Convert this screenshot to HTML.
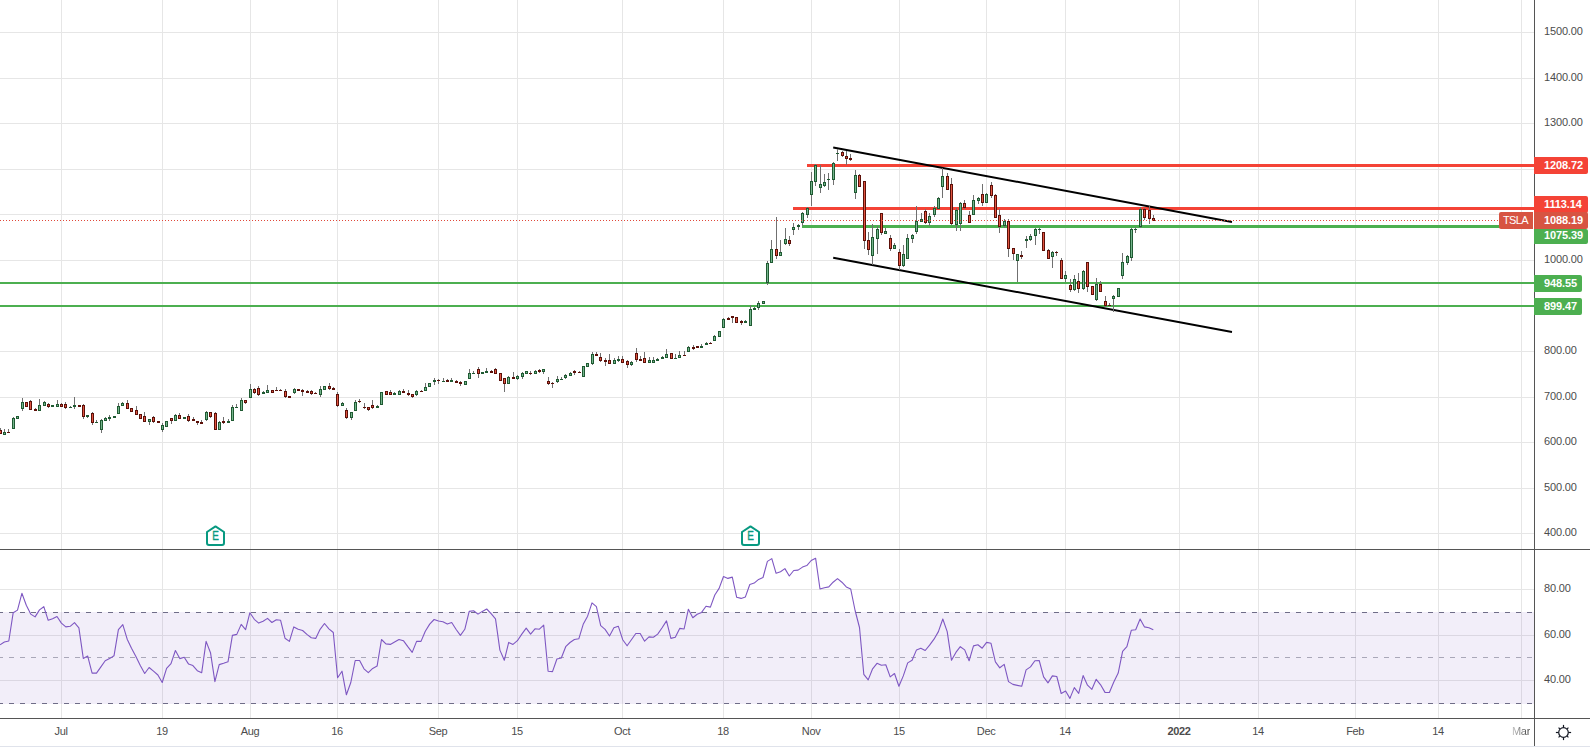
<!DOCTYPE html><html><head><meta charset="utf-8"><title>TSLA chart</title><style>
html,body{margin:0;padding:0;background:#fff}
body{width:1590px;height:748px;position:relative;overflow:hidden;font-family:"Liberation Sans",sans-serif;}
.pl{position:absolute;left:1544px;font-size:11px;line-height:14px;height:14px;color:#4c4c4c;white-space:nowrap;letter-spacing:-0.15px}
.tl{position:absolute;top:724px;font-size:11px;line-height:14px;height:14px;color:#4c4c4c;white-space:nowrap;transform:translateX(-50%);letter-spacing:-0.35px}
.tag{position:absolute;left:1534px;height:17px;line-height:17px;color:#fff;font-weight:bold;font-size:11px;padding-left:10px;box-sizing:border-box;border-radius:0 2px 2px 0;white-space:nowrap;letter-spacing:-0.1px}

</style></head><body>
<svg width="1590" height="748" viewBox="0 0 1590 748" style="position:absolute;left:0;top:0">
<g shape-rendering="crispEdges">
<rect x="61" y="0" width="1" height="718" fill="#e6e6e6"/>
<rect x="162" y="0" width="1" height="718" fill="#e6e6e6"/>
<rect x="250" y="0" width="1" height="718" fill="#e6e6e6"/>
<rect x="337" y="0" width="1" height="718" fill="#e6e6e6"/>
<rect x="438" y="0" width="1" height="718" fill="#e6e6e6"/>
<rect x="517" y="0" width="1" height="718" fill="#e6e6e6"/>
<rect x="622" y="0" width="1" height="718" fill="#e6e6e6"/>
<rect x="723" y="0" width="1" height="718" fill="#e6e6e6"/>
<rect x="811" y="0" width="1" height="718" fill="#e6e6e6"/>
<rect x="899" y="0" width="1" height="718" fill="#e6e6e6"/>
<rect x="986" y="0" width="1" height="718" fill="#e6e6e6"/>
<rect x="1065" y="0" width="1" height="718" fill="#e6e6e6"/>
<rect x="1179" y="0" width="1" height="718" fill="#e6e6e6"/>
<rect x="1258" y="0" width="1" height="718" fill="#e6e6e6"/>
<rect x="1355" y="0" width="1" height="718" fill="#e6e6e6"/>
<rect x="1438" y="0" width="1" height="718" fill="#e6e6e6"/>
<rect x="1521" y="0" width="1" height="718" fill="#e6e6e6"/>
<rect x="0" y="32" width="1534" height="1" fill="#e6e6e6"/>
<rect x="0" y="78" width="1534" height="1" fill="#e6e6e6"/>
<rect x="0" y="123" width="1534" height="1" fill="#e6e6e6"/>
<rect x="0" y="169" width="1534" height="1" fill="#e6e6e6"/>
<rect x="0" y="214" width="1534" height="1" fill="#e6e6e6"/>
<rect x="0" y="260" width="1534" height="1" fill="#e6e6e6"/>
<rect x="0" y="305" width="1534" height="1" fill="#e6e6e6"/>
<rect x="0" y="351" width="1534" height="1" fill="#e6e6e6"/>
<rect x="0" y="397" width="1534" height="1" fill="#e6e6e6"/>
<rect x="0" y="442" width="1534" height="1" fill="#e6e6e6"/>
<rect x="0" y="488" width="1534" height="1" fill="#e6e6e6"/>
<rect x="0" y="533" width="1534" height="1" fill="#e6e6e6"/>
<rect x="0" y="589" width="1534" height="1" fill="#e6e6e6"/>
<rect x="0" y="635" width="1534" height="1" fill="#e6e6e6"/>
<rect x="0" y="680" width="1534" height="1" fill="#e6e6e6"/>
<rect x="0" y="612" width="1534" height="92" fill="#7e57c2" fill-opacity="0.1"/>
<path d="M-2 612.5H1534M-2 703.5H1534" stroke="#6f6d88" stroke-width="1" stroke-dasharray="5 6" fill="none"/>
<path d="M-2 657.5H1534" stroke="#a9a7b8" stroke-width="1" stroke-dasharray="5 6" fill="none"/>
<rect x="807" y="164" width="727" height="3" fill="#f44336"/>
<rect x="793" y="207" width="741" height="3" fill="#f44336"/>
<rect x="802" y="225" width="732" height="3" fill="#4caf50"/>
<rect x="0" y="282" width="1534" height="2" fill="#4caf50"/>
<rect x="0" y="305" width="1534" height="2" fill="#4caf50"/>
</g>
<path d="M833.2 147.5L1232 221.9M833.2 257.8L1232 332" stroke="#000" stroke-width="2" stroke-linecap="butt" fill="none"/>
<g shape-rendering="crispEdges">
<rect x="0" y="428" width="1" height="6" fill="#707070"/>
<rect x="-1" y="430" width="3" height="4" fill="#5c1009"/>
<rect x="0" y="431" width="1" height="2" fill="#e05440"/>
<rect x="4" y="429" width="1" height="6" fill="#707070"/>
<rect x="3" y="432" width="3" height="3" fill="#1f5a32"/>
<rect x="4" y="433" width="1" height="1" fill="#74b48c"/>
<rect x="8" y="429" width="1" height="4" fill="#707070"/>
<rect x="7" y="432" width="3" height="1" fill="#5c1009"/>
<rect x="13" y="417" width="1" height="12" fill="#707070"/>
<rect x="12" y="418" width="3" height="11" fill="#1f5a32"/>
<rect x="13" y="419" width="1" height="9" fill="#74b48c"/>
<rect x="16" y="416" width="3" height="3" fill="#1f5a32"/>
<rect x="17" y="417" width="1" height="1" fill="#74b48c"/>
<rect x="22" y="398" width="1" height="13" fill="#707070"/>
<rect x="21" y="402" width="3" height="7" fill="#1f5a32"/>
<rect x="22" y="403" width="1" height="5" fill="#74b48c"/>
<rect x="25" y="402" width="3" height="5" fill="#5c1009"/>
<rect x="26" y="403" width="1" height="3" fill="#e05440"/>
<rect x="30" y="400" width="1" height="10" fill="#707070"/>
<rect x="29" y="401" width="3" height="9" fill="#5c1009"/>
<rect x="30" y="402" width="1" height="7" fill="#e05440"/>
<rect x="35" y="408" width="1" height="3" fill="#707070"/>
<rect x="34" y="409" width="3" height="2" fill="#5c1009"/>
<rect x="39" y="399" width="1" height="12" fill="#707070"/>
<rect x="38" y="405" width="3" height="6" fill="#1f5a32"/>
<rect x="39" y="406" width="1" height="4" fill="#74b48c"/>
<rect x="44" y="401" width="1" height="5" fill="#707070"/>
<rect x="43" y="402" width="3" height="4" fill="#1f5a32"/>
<rect x="44" y="403" width="1" height="2" fill="#74b48c"/>
<rect x="48" y="403" width="1" height="5" fill="#707070"/>
<rect x="47" y="404" width="3" height="3" fill="#5c1009"/>
<rect x="48" y="405" width="1" height="1" fill="#e05440"/>
<rect x="51" y="405" width="3" height="2" fill="#1f5a32"/>
<rect x="57" y="400" width="1" height="7" fill="#707070"/>
<rect x="56" y="404" width="3" height="3" fill="#1f5a32"/>
<rect x="57" y="405" width="1" height="1" fill="#74b48c"/>
<rect x="61" y="403" width="1" height="4" fill="#707070"/>
<rect x="60" y="404" width="3" height="3" fill="#5c1009"/>
<rect x="61" y="405" width="1" height="1" fill="#e05440"/>
<rect x="65" y="402" width="1" height="7" fill="#707070"/>
<rect x="64" y="404" width="3" height="4" fill="#5c1009"/>
<rect x="65" y="405" width="1" height="2" fill="#e05440"/>
<rect x="70" y="406" width="1" height="2" fill="#707070"/>
<rect x="69" y="407" width="3" height="1" fill="#1f5a32"/>
<rect x="74" y="397" width="1" height="12" fill="#707070"/>
<rect x="73" y="405" width="3" height="2" fill="#1f5a32"/>
<rect x="78" y="405" width="3" height="2" fill="#5c1009"/>
<rect x="83" y="404" width="1" height="15" fill="#707070"/>
<rect x="82" y="405" width="3" height="12" fill="#5c1009"/>
<rect x="83" y="406" width="1" height="10" fill="#e05440"/>
<rect x="87" y="415" width="1" height="3" fill="#707070"/>
<rect x="86" y="415" width="3" height="2" fill="#1f5a32"/>
<rect x="92" y="412" width="1" height="13" fill="#707070"/>
<rect x="91" y="413" width="3" height="10" fill="#5c1009"/>
<rect x="92" y="414" width="1" height="8" fill="#e05440"/>
<rect x="96" y="420" width="1" height="3" fill="#707070"/>
<rect x="95" y="422" width="3" height="1" fill="#1f5a32"/>
<rect x="101" y="419" width="1" height="14" fill="#707070"/>
<rect x="100" y="420" width="3" height="10" fill="#1f5a32"/>
<rect x="101" y="421" width="1" height="8" fill="#74b48c"/>
<rect x="105" y="417" width="1" height="4" fill="#707070"/>
<rect x="104" y="418" width="3" height="3" fill="#1f5a32"/>
<rect x="105" y="419" width="1" height="1" fill="#74b48c"/>
<rect x="109" y="415" width="1" height="6" fill="#707070"/>
<rect x="108" y="417" width="3" height="2" fill="#1f5a32"/>
<rect x="113" y="416" width="3" height="2" fill="#1f5a32"/>
<rect x="118" y="403" width="1" height="11" fill="#707070"/>
<rect x="117" y="406" width="3" height="8" fill="#1f5a32"/>
<rect x="118" y="407" width="1" height="6" fill="#74b48c"/>
<rect x="122" y="402" width="1" height="4" fill="#707070"/>
<rect x="121" y="403" width="3" height="3" fill="#1f5a32"/>
<rect x="122" y="404" width="1" height="1" fill="#74b48c"/>
<rect x="127" y="400" width="1" height="9" fill="#707070"/>
<rect x="126" y="403" width="3" height="6" fill="#5c1009"/>
<rect x="127" y="404" width="1" height="4" fill="#e05440"/>
<rect x="130" y="408" width="3" height="4" fill="#5c1009"/>
<rect x="131" y="409" width="1" height="2" fill="#e05440"/>
<rect x="136" y="406" width="1" height="9" fill="#707070"/>
<rect x="135" y="410" width="3" height="5" fill="#5c1009"/>
<rect x="136" y="411" width="1" height="3" fill="#e05440"/>
<rect x="139" y="414" width="3" height="5" fill="#5c1009"/>
<rect x="140" y="415" width="1" height="3" fill="#e05440"/>
<rect x="144" y="412" width="1" height="10" fill="#707070"/>
<rect x="143" y="416" width="3" height="6" fill="#5c1009"/>
<rect x="144" y="417" width="1" height="4" fill="#e05440"/>
<rect x="149" y="419" width="1" height="6" fill="#707070"/>
<rect x="148" y="419" width="3" height="3" fill="#1f5a32"/>
<rect x="149" y="420" width="1" height="1" fill="#74b48c"/>
<rect x="153" y="416" width="1" height="7" fill="#707070"/>
<rect x="152" y="417" width="3" height="5" fill="#5c1009"/>
<rect x="153" y="418" width="1" height="3" fill="#e05440"/>
<rect x="157" y="421" width="3" height="2" fill="#5c1009"/>
<rect x="162" y="423" width="1" height="9" fill="#707070"/>
<rect x="161" y="425" width="3" height="5" fill="#1f5a32"/>
<rect x="162" y="426" width="1" height="3" fill="#74b48c"/>
<rect x="165" y="421" width="3" height="6" fill="#1f5a32"/>
<rect x="166" y="422" width="1" height="4" fill="#74b48c"/>
<rect x="171" y="418" width="1" height="6" fill="#707070"/>
<rect x="170" y="418" width="3" height="3" fill="#5c1009"/>
<rect x="171" y="419" width="1" height="1" fill="#e05440"/>
<rect x="175" y="414" width="1" height="7" fill="#707070"/>
<rect x="174" y="415" width="3" height="6" fill="#1f5a32"/>
<rect x="175" y="416" width="1" height="4" fill="#74b48c"/>
<rect x="179" y="413" width="1" height="6" fill="#707070"/>
<rect x="178" y="415" width="3" height="4" fill="#5c1009"/>
<rect x="179" y="416" width="1" height="2" fill="#e05440"/>
<rect x="183" y="417" width="3" height="2" fill="#1f5a32"/>
<rect x="188" y="414" width="1" height="8" fill="#707070"/>
<rect x="187" y="416" width="3" height="5" fill="#5c1009"/>
<rect x="188" y="417" width="1" height="3" fill="#e05440"/>
<rect x="193" y="417" width="1" height="4" fill="#707070"/>
<rect x="192" y="419" width="3" height="2" fill="#5c1009"/>
<rect x="197" y="421" width="1" height="4" fill="#707070"/>
<rect x="196" y="421" width="3" height="2" fill="#5c1009"/>
<rect x="201" y="420" width="1" height="4" fill="#707070"/>
<rect x="200" y="422" width="3" height="2" fill="#5c1009"/>
<rect x="206" y="411" width="1" height="10" fill="#707070"/>
<rect x="205" y="412" width="3" height="8" fill="#1f5a32"/>
<rect x="206" y="413" width="1" height="6" fill="#74b48c"/>
<rect x="210" y="412" width="1" height="6" fill="#707070"/>
<rect x="209" y="412" width="3" height="5" fill="#5c1009"/>
<rect x="210" y="413" width="1" height="3" fill="#e05440"/>
<rect x="215" y="412" width="1" height="18" fill="#707070"/>
<rect x="214" y="413" width="3" height="17" fill="#5c1009"/>
<rect x="215" y="414" width="1" height="15" fill="#e05440"/>
<rect x="219" y="421" width="1" height="9" fill="#707070"/>
<rect x="218" y="422" width="3" height="8" fill="#1f5a32"/>
<rect x="219" y="423" width="1" height="6" fill="#74b48c"/>
<rect x="223" y="417" width="1" height="7" fill="#707070"/>
<rect x="222" y="421" width="3" height="2" fill="#5c1009"/>
<rect x="228" y="419" width="1" height="4" fill="#707070"/>
<rect x="227" y="421" width="3" height="2" fill="#1f5a32"/>
<rect x="232" y="405" width="1" height="16" fill="#707070"/>
<rect x="231" y="407" width="3" height="14" fill="#1f5a32"/>
<rect x="232" y="408" width="1" height="12" fill="#74b48c"/>
<rect x="236" y="404" width="1" height="4" fill="#707070"/>
<rect x="235" y="407" width="3" height="1" fill="#1f5a32"/>
<rect x="241" y="398" width="1" height="13" fill="#707070"/>
<rect x="240" y="400" width="3" height="11" fill="#1f5a32"/>
<rect x="241" y="401" width="1" height="9" fill="#74b48c"/>
<rect x="245" y="400" width="1" height="4" fill="#707070"/>
<rect x="244" y="400" width="3" height="3" fill="#5c1009"/>
<rect x="245" y="401" width="1" height="1" fill="#e05440"/>
<rect x="250" y="384" width="1" height="14" fill="#707070"/>
<rect x="249" y="389" width="3" height="9" fill="#1f5a32"/>
<rect x="250" y="390" width="1" height="7" fill="#74b48c"/>
<rect x="254" y="388" width="1" height="6" fill="#707070"/>
<rect x="253" y="389" width="3" height="4" fill="#5c1009"/>
<rect x="254" y="390" width="1" height="2" fill="#e05440"/>
<rect x="258" y="386" width="1" height="10" fill="#707070"/>
<rect x="257" y="388" width="3" height="7" fill="#5c1009"/>
<rect x="258" y="389" width="1" height="5" fill="#e05440"/>
<rect x="263" y="391" width="1" height="3" fill="#707070"/>
<rect x="262" y="392" width="3" height="2" fill="#1f5a32"/>
<rect x="267" y="385" width="1" height="8" fill="#707070"/>
<rect x="266" y="390" width="3" height="3" fill="#1f5a32"/>
<rect x="267" y="391" width="1" height="1" fill="#74b48c"/>
<rect x="271" y="390" width="3" height="3" fill="#5c1009"/>
<rect x="272" y="391" width="1" height="1" fill="#e05440"/>
<rect x="276" y="387" width="1" height="4" fill="#707070"/>
<rect x="275" y="390" width="3" height="1" fill="#5c1009"/>
<rect x="280" y="389" width="1" height="2" fill="#707070"/>
<rect x="279" y="390" width="3" height="1" fill="#5c1009"/>
<rect x="285" y="389" width="1" height="9" fill="#707070"/>
<rect x="284" y="391" width="3" height="6" fill="#5c1009"/>
<rect x="285" y="392" width="1" height="4" fill="#e05440"/>
<rect x="288" y="396" width="3" height="2" fill="#5c1009"/>
<rect x="294" y="388" width="1" height="6" fill="#707070"/>
<rect x="293" y="389" width="3" height="4" fill="#1f5a32"/>
<rect x="294" y="390" width="1" height="2" fill="#74b48c"/>
<rect x="297" y="389" width="3" height="2" fill="#5c1009"/>
<rect x="302" y="389" width="1" height="7" fill="#707070"/>
<rect x="301" y="390" width="3" height="2" fill="#5c1009"/>
<rect x="307" y="390" width="1" height="3" fill="#707070"/>
<rect x="306" y="391" width="3" height="2" fill="#5c1009"/>
<rect x="311" y="390" width="1" height="5" fill="#707070"/>
<rect x="310" y="391" width="3" height="3" fill="#5c1009"/>
<rect x="311" y="392" width="1" height="1" fill="#e05440"/>
<rect x="315" y="392" width="1" height="2" fill="#707070"/>
<rect x="314" y="393" width="3" height="1" fill="#5c1009"/>
<rect x="320" y="386" width="1" height="11" fill="#707070"/>
<rect x="319" y="389" width="3" height="6" fill="#1f5a32"/>
<rect x="320" y="390" width="1" height="4" fill="#74b48c"/>
<rect x="323" y="386" width="3" height="4" fill="#1f5a32"/>
<rect x="324" y="387" width="1" height="2" fill="#74b48c"/>
<rect x="329" y="383" width="1" height="7" fill="#707070"/>
<rect x="328" y="386" width="3" height="3" fill="#5c1009"/>
<rect x="329" y="387" width="1" height="1" fill="#e05440"/>
<rect x="333" y="387" width="1" height="3" fill="#707070"/>
<rect x="332" y="388" width="3" height="2" fill="#5c1009"/>
<rect x="337" y="392" width="1" height="15" fill="#707070"/>
<rect x="336" y="394" width="3" height="12" fill="#5c1009"/>
<rect x="337" y="395" width="1" height="10" fill="#e05440"/>
<rect x="342" y="402" width="1" height="4" fill="#707070"/>
<rect x="341" y="403" width="3" height="3" fill="#1f5a32"/>
<rect x="342" y="404" width="1" height="1" fill="#74b48c"/>
<rect x="346" y="408" width="1" height="11" fill="#707070"/>
<rect x="345" y="410" width="3" height="8" fill="#5c1009"/>
<rect x="346" y="411" width="1" height="6" fill="#e05440"/>
<rect x="351" y="412" width="1" height="8" fill="#707070"/>
<rect x="350" y="412" width="3" height="6" fill="#1f5a32"/>
<rect x="351" y="413" width="1" height="4" fill="#74b48c"/>
<rect x="355" y="400" width="1" height="11" fill="#707070"/>
<rect x="354" y="402" width="3" height="9" fill="#1f5a32"/>
<rect x="355" y="403" width="1" height="7" fill="#74b48c"/>
<rect x="359" y="399" width="1" height="4" fill="#707070"/>
<rect x="358" y="401" width="3" height="1" fill="#5c1009"/>
<rect x="364" y="403" width="1" height="6" fill="#707070"/>
<rect x="363" y="407" width="3" height="1" fill="#5c1009"/>
<rect x="368" y="407" width="1" height="4" fill="#707070"/>
<rect x="367" y="407" width="3" height="3" fill="#5c1009"/>
<rect x="368" y="408" width="1" height="1" fill="#e05440"/>
<rect x="372" y="400" width="1" height="9" fill="#707070"/>
<rect x="371" y="405" width="3" height="3" fill="#5c1009"/>
<rect x="372" y="406" width="1" height="1" fill="#e05440"/>
<rect x="377" y="405" width="1" height="3" fill="#707070"/>
<rect x="376" y="406" width="3" height="2" fill="#1f5a32"/>
<rect x="380" y="392" width="3" height="13" fill="#1f5a32"/>
<rect x="381" y="393" width="1" height="11" fill="#74b48c"/>
<rect x="385" y="391" width="3" height="4" fill="#5c1009"/>
<rect x="386" y="392" width="1" height="2" fill="#e05440"/>
<rect x="390" y="390" width="1" height="5" fill="#707070"/>
<rect x="389" y="392" width="3" height="3" fill="#5c1009"/>
<rect x="390" y="393" width="1" height="1" fill="#e05440"/>
<rect x="394" y="392" width="1" height="3" fill="#707070"/>
<rect x="393" y="393" width="3" height="2" fill="#1f5a32"/>
<rect x="399" y="390" width="1" height="5" fill="#707070"/>
<rect x="398" y="391" width="3" height="4" fill="#1f5a32"/>
<rect x="399" y="392" width="1" height="2" fill="#74b48c"/>
<rect x="403" y="389" width="1" height="4" fill="#707070"/>
<rect x="402" y="391" width="3" height="2" fill="#5c1009"/>
<rect x="408" y="390" width="1" height="6" fill="#707070"/>
<rect x="407" y="393" width="3" height="2" fill="#5c1009"/>
<rect x="412" y="394" width="1" height="4" fill="#707070"/>
<rect x="411" y="394" width="3" height="3" fill="#5c1009"/>
<rect x="412" y="395" width="1" height="1" fill="#e05440"/>
<rect x="416" y="390" width="1" height="6" fill="#707070"/>
<rect x="415" y="391" width="3" height="4" fill="#1f5a32"/>
<rect x="416" y="392" width="1" height="2" fill="#74b48c"/>
<rect x="421" y="390" width="1" height="2" fill="#707070"/>
<rect x="420" y="391" width="3" height="1" fill="#5c1009"/>
<rect x="425" y="383" width="1" height="8" fill="#707070"/>
<rect x="424" y="387" width="3" height="4" fill="#1f5a32"/>
<rect x="425" y="388" width="1" height="2" fill="#74b48c"/>
<rect x="428" y="383" width="3" height="4" fill="#1f5a32"/>
<rect x="429" y="384" width="1" height="2" fill="#74b48c"/>
<rect x="434" y="378" width="1" height="7" fill="#707070"/>
<rect x="433" y="380" width="3" height="2" fill="#1f5a32"/>
<rect x="438" y="379" width="1" height="5" fill="#707070"/>
<rect x="437" y="380" width="3" height="1" fill="#5c1009"/>
<rect x="443" y="378" width="1" height="4" fill="#707070"/>
<rect x="442" y="381" width="3" height="1" fill="#1f5a32"/>
<rect x="447" y="379" width="1" height="3" fill="#707070"/>
<rect x="446" y="380" width="3" height="2" fill="#5c1009"/>
<rect x="451" y="378" width="1" height="4" fill="#707070"/>
<rect x="450" y="380" width="3" height="2" fill="#1f5a32"/>
<rect x="456" y="380" width="1" height="3" fill="#707070"/>
<rect x="455" y="381" width="3" height="2" fill="#5c1009"/>
<rect x="460" y="381" width="1" height="5" fill="#707070"/>
<rect x="459" y="382" width="3" height="2" fill="#5c1009"/>
<rect x="464" y="381" width="3" height="4" fill="#1f5a32"/>
<rect x="465" y="382" width="1" height="2" fill="#74b48c"/>
<rect x="469" y="369" width="1" height="10" fill="#707070"/>
<rect x="468" y="373" width="3" height="6" fill="#1f5a32"/>
<rect x="469" y="374" width="1" height="4" fill="#74b48c"/>
<rect x="473" y="371" width="1" height="3" fill="#707070"/>
<rect x="472" y="373" width="3" height="1" fill="#1f5a32"/>
<rect x="478" y="367" width="1" height="11" fill="#707070"/>
<rect x="477" y="369" width="3" height="5" fill="#5c1009"/>
<rect x="478" y="370" width="1" height="3" fill="#e05440"/>
<rect x="481" y="372" width="3" height="2" fill="#1f5a32"/>
<rect x="486" y="368" width="1" height="5" fill="#707070"/>
<rect x="485" y="371" width="3" height="2" fill="#1f5a32"/>
<rect x="491" y="370" width="1" height="3" fill="#707070"/>
<rect x="490" y="371" width="3" height="2" fill="#5c1009"/>
<rect x="495" y="368" width="1" height="6" fill="#707070"/>
<rect x="494" y="369" width="3" height="5" fill="#5c1009"/>
<rect x="495" y="370" width="1" height="3" fill="#e05440"/>
<rect x="499" y="373" width="3" height="8" fill="#5c1009"/>
<rect x="500" y="374" width="1" height="6" fill="#e05440"/>
<rect x="504" y="378" width="1" height="14" fill="#707070"/>
<rect x="503" y="378" width="3" height="6" fill="#5c1009"/>
<rect x="504" y="379" width="1" height="4" fill="#e05440"/>
<rect x="508" y="376" width="1" height="8" fill="#707070"/>
<rect x="507" y="377" width="3" height="7" fill="#1f5a32"/>
<rect x="508" y="378" width="1" height="5" fill="#74b48c"/>
<rect x="513" y="372" width="1" height="7" fill="#707070"/>
<rect x="512" y="377" width="3" height="2" fill="#5c1009"/>
<rect x="517" y="375" width="1" height="5" fill="#707070"/>
<rect x="516" y="376" width="3" height="3" fill="#1f5a32"/>
<rect x="517" y="377" width="1" height="1" fill="#74b48c"/>
<rect x="522" y="372" width="1" height="7" fill="#707070"/>
<rect x="521" y="373" width="3" height="4" fill="#1f5a32"/>
<rect x="522" y="374" width="1" height="2" fill="#74b48c"/>
<rect x="525" y="371" width="3" height="3" fill="#1f5a32"/>
<rect x="526" y="372" width="1" height="1" fill="#74b48c"/>
<rect x="530" y="371" width="1" height="4" fill="#707070"/>
<rect x="529" y="373" width="3" height="1" fill="#5c1009"/>
<rect x="535" y="370" width="1" height="4" fill="#707070"/>
<rect x="534" y="371" width="3" height="3" fill="#1f5a32"/>
<rect x="535" y="372" width="1" height="1" fill="#74b48c"/>
<rect x="539" y="369" width="1" height="4" fill="#707070"/>
<rect x="538" y="370" width="3" height="2" fill="#5c1009"/>
<rect x="543" y="369" width="1" height="5" fill="#707070"/>
<rect x="542" y="369" width="3" height="3" fill="#1f5a32"/>
<rect x="543" y="370" width="1" height="1" fill="#74b48c"/>
<rect x="548" y="377" width="1" height="8" fill="#707070"/>
<rect x="547" y="381" width="3" height="3" fill="#5c1009"/>
<rect x="548" y="382" width="1" height="1" fill="#e05440"/>
<rect x="552" y="382" width="1" height="6" fill="#707070"/>
<rect x="551" y="383" width="3" height="1" fill="#5c1009"/>
<rect x="557" y="376" width="1" height="7" fill="#707070"/>
<rect x="556" y="379" width="3" height="3" fill="#1f5a32"/>
<rect x="557" y="380" width="1" height="1" fill="#74b48c"/>
<rect x="561" y="377" width="1" height="3" fill="#707070"/>
<rect x="560" y="379" width="3" height="1" fill="#1f5a32"/>
<rect x="565" y="374" width="1" height="5" fill="#707070"/>
<rect x="564" y="375" width="3" height="3" fill="#1f5a32"/>
<rect x="565" y="376" width="1" height="1" fill="#74b48c"/>
<rect x="570" y="372" width="1" height="4" fill="#707070"/>
<rect x="569" y="373" width="3" height="3" fill="#1f5a32"/>
<rect x="570" y="374" width="1" height="1" fill="#74b48c"/>
<rect x="574" y="370" width="1" height="5" fill="#707070"/>
<rect x="573" y="371" width="3" height="2" fill="#5c1009"/>
<rect x="579" y="371" width="1" height="2" fill="#707070"/>
<rect x="578" y="372" width="3" height="1" fill="#5c1009"/>
<rect x="582" y="366" width="3" height="11" fill="#1f5a32"/>
<rect x="583" y="367" width="1" height="9" fill="#74b48c"/>
<rect x="586" y="363" width="3" height="4" fill="#1f5a32"/>
<rect x="587" y="364" width="1" height="2" fill="#74b48c"/>
<rect x="592" y="352" width="1" height="13" fill="#707070"/>
<rect x="591" y="354" width="3" height="10" fill="#1f5a32"/>
<rect x="592" y="355" width="1" height="8" fill="#74b48c"/>
<rect x="596" y="352" width="1" height="4" fill="#707070"/>
<rect x="595" y="354" width="3" height="2" fill="#5c1009"/>
<rect x="600" y="353" width="1" height="9" fill="#707070"/>
<rect x="599" y="357" width="3" height="4" fill="#5c1009"/>
<rect x="600" y="358" width="1" height="2" fill="#e05440"/>
<rect x="605" y="358" width="1" height="8" fill="#707070"/>
<rect x="604" y="360" width="3" height="2" fill="#5c1009"/>
<rect x="609" y="354" width="1" height="10" fill="#707070"/>
<rect x="608" y="360" width="3" height="4" fill="#5c1009"/>
<rect x="609" y="361" width="1" height="2" fill="#e05440"/>
<rect x="614" y="358" width="1" height="6" fill="#707070"/>
<rect x="613" y="360" width="3" height="4" fill="#1f5a32"/>
<rect x="614" y="361" width="1" height="2" fill="#74b48c"/>
<rect x="618" y="356" width="1" height="6" fill="#707070"/>
<rect x="617" y="359" width="3" height="2" fill="#1f5a32"/>
<rect x="622" y="356" width="1" height="7" fill="#707070"/>
<rect x="621" y="359" width="3" height="4" fill="#5c1009"/>
<rect x="622" y="360" width="1" height="2" fill="#e05440"/>
<rect x="627" y="360" width="1" height="8" fill="#707070"/>
<rect x="626" y="361" width="3" height="4" fill="#5c1009"/>
<rect x="627" y="362" width="1" height="2" fill="#e05440"/>
<rect x="631" y="361" width="1" height="5" fill="#707070"/>
<rect x="630" y="362" width="3" height="3" fill="#1f5a32"/>
<rect x="631" y="363" width="1" height="1" fill="#74b48c"/>
<rect x="636" y="348" width="1" height="14" fill="#707070"/>
<rect x="635" y="353" width="3" height="7" fill="#5c1009"/>
<rect x="636" y="354" width="1" height="5" fill="#e05440"/>
<rect x="640" y="356" width="1" height="5" fill="#707070"/>
<rect x="639" y="359" width="3" height="2" fill="#5c1009"/>
<rect x="644" y="352" width="1" height="11" fill="#707070"/>
<rect x="643" y="358" width="3" height="5" fill="#5c1009"/>
<rect x="644" y="359" width="1" height="3" fill="#e05440"/>
<rect x="649" y="357" width="1" height="6" fill="#707070"/>
<rect x="648" y="360" width="3" height="3" fill="#1f5a32"/>
<rect x="649" y="361" width="1" height="1" fill="#74b48c"/>
<rect x="653" y="357" width="1" height="6" fill="#707070"/>
<rect x="652" y="360" width="3" height="3" fill="#1f5a32"/>
<rect x="653" y="361" width="1" height="1" fill="#74b48c"/>
<rect x="657" y="358" width="1" height="3" fill="#707070"/>
<rect x="656" y="359" width="3" height="2" fill="#1f5a32"/>
<rect x="662" y="356" width="1" height="3" fill="#707070"/>
<rect x="661" y="357" width="3" height="2" fill="#1f5a32"/>
<rect x="666" y="349" width="1" height="9" fill="#707070"/>
<rect x="665" y="354" width="3" height="4" fill="#1f5a32"/>
<rect x="666" y="355" width="1" height="2" fill="#74b48c"/>
<rect x="670" y="353" width="3" height="6" fill="#5c1009"/>
<rect x="671" y="354" width="1" height="4" fill="#e05440"/>
<rect x="675" y="354" width="1" height="5" fill="#707070"/>
<rect x="674" y="358" width="3" height="1" fill="#1f5a32"/>
<rect x="679" y="351" width="1" height="7" fill="#707070"/>
<rect x="678" y="355" width="3" height="3" fill="#1f5a32"/>
<rect x="679" y="356" width="1" height="1" fill="#74b48c"/>
<rect x="684" y="351" width="1" height="5" fill="#707070"/>
<rect x="683" y="355" width="3" height="1" fill="#5c1009"/>
<rect x="688" y="346" width="1" height="6" fill="#707070"/>
<rect x="687" y="347" width="3" height="5" fill="#1f5a32"/>
<rect x="688" y="348" width="1" height="3" fill="#74b48c"/>
<rect x="693" y="345" width="1" height="5" fill="#707070"/>
<rect x="692" y="347" width="3" height="2" fill="#5c1009"/>
<rect x="696" y="346" width="3" height="2" fill="#5c1009"/>
<rect x="701" y="344" width="1" height="4" fill="#707070"/>
<rect x="700" y="346" width="3" height="2" fill="#1f5a32"/>
<rect x="706" y="342" width="1" height="3" fill="#707070"/>
<rect x="705" y="343" width="3" height="2" fill="#1f5a32"/>
<rect x="710" y="342" width="1" height="2" fill="#707070"/>
<rect x="709" y="343" width="3" height="1" fill="#5c1009"/>
<rect x="714" y="335" width="1" height="6" fill="#707070"/>
<rect x="713" y="336" width="3" height="5" fill="#1f5a32"/>
<rect x="714" y="337" width="1" height="3" fill="#74b48c"/>
<rect x="718" y="331" width="3" height="6" fill="#1f5a32"/>
<rect x="719" y="332" width="1" height="4" fill="#74b48c"/>
<rect x="723" y="318" width="1" height="10" fill="#707070"/>
<rect x="722" y="319" width="3" height="9" fill="#1f5a32"/>
<rect x="723" y="320" width="1" height="7" fill="#74b48c"/>
<rect x="728" y="317" width="1" height="3" fill="#707070"/>
<rect x="727" y="318" width="3" height="2" fill="#5c1009"/>
<rect x="732" y="316" width="1" height="7" fill="#707070"/>
<rect x="731" y="316" width="3" height="2" fill="#5c1009"/>
<rect x="735" y="317" width="3" height="6" fill="#5c1009"/>
<rect x="736" y="318" width="1" height="4" fill="#e05440"/>
<rect x="741" y="320" width="1" height="5" fill="#707070"/>
<rect x="740" y="321" width="3" height="2" fill="#5c1009"/>
<rect x="745" y="320" width="1" height="3" fill="#707070"/>
<rect x="744" y="321" width="3" height="2" fill="#1f5a32"/>
<rect x="750" y="305" width="1" height="21" fill="#707070"/>
<rect x="749" y="309" width="3" height="17" fill="#1f5a32"/>
<rect x="750" y="310" width="1" height="15" fill="#74b48c"/>
<rect x="754" y="307" width="1" height="3" fill="#707070"/>
<rect x="753" y="308" width="3" height="2" fill="#1f5a32"/>
<rect x="758" y="301" width="1" height="9" fill="#707070"/>
<rect x="757" y="303" width="3" height="5" fill="#1f5a32"/>
<rect x="758" y="304" width="1" height="3" fill="#74b48c"/>
<rect x="762" y="301" width="3" height="3" fill="#1f5a32"/>
<rect x="763" y="302" width="1" height="1" fill="#74b48c"/>
<rect x="767" y="261" width="1" height="24" fill="#707070"/>
<rect x="766" y="263" width="3" height="20" fill="#1f5a32"/>
<rect x="767" y="264" width="1" height="18" fill="#74b48c"/>
<rect x="771" y="240" width="1" height="23" fill="#707070"/>
<rect x="770" y="249" width="3" height="14" fill="#1f5a32"/>
<rect x="771" y="250" width="1" height="12" fill="#74b48c"/>
<rect x="776" y="217" width="1" height="42" fill="#707070"/>
<rect x="775" y="249" width="3" height="7" fill="#5c1009"/>
<rect x="776" y="250" width="1" height="5" fill="#e05440"/>
<rect x="780" y="240" width="1" height="16" fill="#707070"/>
<rect x="779" y="252" width="3" height="4" fill="#1f5a32"/>
<rect x="780" y="253" width="1" height="2" fill="#74b48c"/>
<rect x="785" y="228" width="1" height="17" fill="#707070"/>
<rect x="784" y="239" width="3" height="5" fill="#1f5a32"/>
<rect x="785" y="240" width="1" height="3" fill="#74b48c"/>
<rect x="789" y="236" width="1" height="10" fill="#707070"/>
<rect x="788" y="240" width="3" height="4" fill="#5c1009"/>
<rect x="789" y="241" width="1" height="2" fill="#e05440"/>
<rect x="793" y="223" width="1" height="12" fill="#707070"/>
<rect x="792" y="227" width="3" height="3" fill="#1f5a32"/>
<rect x="793" y="228" width="1" height="1" fill="#74b48c"/>
<rect x="798" y="224" width="1" height="6" fill="#707070"/>
<rect x="797" y="225" width="3" height="2" fill="#1f5a32"/>
<rect x="802" y="212" width="1" height="14" fill="#707070"/>
<rect x="801" y="213" width="3" height="10" fill="#1f5a32"/>
<rect x="802" y="214" width="1" height="8" fill="#74b48c"/>
<rect x="807" y="207" width="1" height="11" fill="#707070"/>
<rect x="806" y="208" width="3" height="7" fill="#1f5a32"/>
<rect x="807" y="209" width="1" height="5" fill="#74b48c"/>
<rect x="811" y="172" width="1" height="34" fill="#707070"/>
<rect x="810" y="181" width="3" height="14" fill="#1f5a32"/>
<rect x="811" y="182" width="1" height="12" fill="#74b48c"/>
<rect x="815" y="164" width="1" height="22" fill="#707070"/>
<rect x="814" y="165" width="3" height="17" fill="#1f5a32"/>
<rect x="815" y="166" width="1" height="15" fill="#74b48c"/>
<rect x="820" y="165" width="1" height="28" fill="#707070"/>
<rect x="819" y="184" width="3" height="4" fill="#1f5a32"/>
<rect x="820" y="185" width="1" height="2" fill="#74b48c"/>
<rect x="824" y="174" width="1" height="13" fill="#707070"/>
<rect x="823" y="182" width="3" height="4" fill="#1f5a32"/>
<rect x="824" y="183" width="1" height="2" fill="#74b48c"/>
<rect x="828" y="173" width="1" height="17" fill="#707070"/>
<rect x="827" y="179" width="3" height="1" fill="#1f5a32"/>
<rect x="833" y="162" width="1" height="23" fill="#707070"/>
<rect x="832" y="163" width="3" height="17" fill="#1f5a32"/>
<rect x="833" y="164" width="1" height="15" fill="#74b48c"/>
<rect x="837" y="149" width="1" height="12" fill="#707070"/>
<rect x="836" y="153" width="3" height="1" fill="#1f5a32"/>
<rect x="842" y="151" width="1" height="6" fill="#707070"/>
<rect x="841" y="152" width="3" height="4" fill="#5c1009"/>
<rect x="842" y="153" width="1" height="2" fill="#e05440"/>
<rect x="846" y="151" width="1" height="14" fill="#707070"/>
<rect x="845" y="156" width="3" height="3" fill="#5c1009"/>
<rect x="846" y="157" width="1" height="1" fill="#e05440"/>
<rect x="850" y="154" width="1" height="7" fill="#707070"/>
<rect x="849" y="158" width="3" height="2" fill="#5c1009"/>
<rect x="855" y="170" width="1" height="29" fill="#707070"/>
<rect x="854" y="175" width="3" height="18" fill="#1f5a32"/>
<rect x="855" y="176" width="1" height="16" fill="#74b48c"/>
<rect x="859" y="174" width="1" height="13" fill="#707070"/>
<rect x="858" y="175" width="3" height="12" fill="#5c1009"/>
<rect x="859" y="176" width="1" height="10" fill="#e05440"/>
<rect x="864" y="181" width="1" height="68" fill="#707070"/>
<rect x="863" y="181" width="3" height="60" fill="#5c1009"/>
<rect x="864" y="182" width="1" height="58" fill="#e05440"/>
<rect x="868" y="232" width="1" height="23" fill="#707070"/>
<rect x="867" y="240" width="3" height="10" fill="#5c1009"/>
<rect x="868" y="241" width="1" height="8" fill="#e05440"/>
<rect x="872" y="224" width="1" height="41" fill="#707070"/>
<rect x="871" y="237" width="3" height="19" fill="#1f5a32"/>
<rect x="872" y="238" width="1" height="17" fill="#74b48c"/>
<rect x="877" y="226" width="1" height="28" fill="#707070"/>
<rect x="876" y="229" width="3" height="10" fill="#1f5a32"/>
<rect x="877" y="230" width="1" height="8" fill="#74b48c"/>
<rect x="881" y="213" width="1" height="22" fill="#707070"/>
<rect x="880" y="213" width="3" height="20" fill="#5c1009"/>
<rect x="881" y="214" width="1" height="18" fill="#e05440"/>
<rect x="885" y="228" width="1" height="6" fill="#707070"/>
<rect x="884" y="231" width="3" height="3" fill="#1f5a32"/>
<rect x="885" y="232" width="1" height="1" fill="#74b48c"/>
<rect x="890" y="235" width="1" height="16" fill="#707070"/>
<rect x="889" y="238" width="3" height="11" fill="#5c1009"/>
<rect x="890" y="239" width="1" height="9" fill="#e05440"/>
<rect x="894" y="243" width="1" height="6" fill="#707070"/>
<rect x="893" y="245" width="3" height="4" fill="#1f5a32"/>
<rect x="894" y="246" width="1" height="2" fill="#74b48c"/>
<rect x="899" y="249" width="1" height="21" fill="#707070"/>
<rect x="898" y="252" width="3" height="14" fill="#5c1009"/>
<rect x="899" y="253" width="1" height="12" fill="#e05440"/>
<rect x="903" y="245" width="1" height="22" fill="#707070"/>
<rect x="902" y="254" width="3" height="12" fill="#1f5a32"/>
<rect x="903" y="255" width="1" height="10" fill="#74b48c"/>
<rect x="907" y="234" width="1" height="25" fill="#707070"/>
<rect x="906" y="238" width="3" height="21" fill="#1f5a32"/>
<rect x="907" y="239" width="1" height="19" fill="#74b48c"/>
<rect x="912" y="234" width="1" height="9" fill="#707070"/>
<rect x="911" y="235" width="3" height="4" fill="#1f5a32"/>
<rect x="912" y="236" width="1" height="2" fill="#74b48c"/>
<rect x="916" y="206" width="1" height="28" fill="#707070"/>
<rect x="915" y="221" width="3" height="11" fill="#1f5a32"/>
<rect x="916" y="222" width="1" height="9" fill="#74b48c"/>
<rect x="921" y="213" width="1" height="9" fill="#707070"/>
<rect x="920" y="219" width="3" height="3" fill="#1f5a32"/>
<rect x="921" y="220" width="1" height="1" fill="#74b48c"/>
<rect x="925" y="209" width="1" height="15" fill="#707070"/>
<rect x="924" y="211" width="3" height="12" fill="#5c1009"/>
<rect x="925" y="212" width="1" height="10" fill="#e05440"/>
<rect x="929" y="213" width="1" height="13" fill="#707070"/>
<rect x="928" y="216" width="3" height="7" fill="#1f5a32"/>
<rect x="929" y="217" width="1" height="5" fill="#74b48c"/>
<rect x="934" y="206" width="1" height="11" fill="#707070"/>
<rect x="933" y="208" width="3" height="7" fill="#1f5a32"/>
<rect x="934" y="209" width="1" height="5" fill="#74b48c"/>
<rect x="938" y="197" width="1" height="12" fill="#707070"/>
<rect x="937" y="198" width="3" height="11" fill="#1f5a32"/>
<rect x="938" y="199" width="1" height="9" fill="#74b48c"/>
<rect x="942" y="168" width="1" height="30" fill="#707070"/>
<rect x="941" y="176" width="3" height="11" fill="#1f5a32"/>
<rect x="942" y="177" width="1" height="9" fill="#74b48c"/>
<rect x="947" y="173" width="1" height="17" fill="#707070"/>
<rect x="946" y="176" width="3" height="14" fill="#5c1009"/>
<rect x="947" y="177" width="1" height="12" fill="#e05440"/>
<rect x="951" y="178" width="1" height="47" fill="#707070"/>
<rect x="950" y="184" width="3" height="40" fill="#5c1009"/>
<rect x="951" y="185" width="1" height="38" fill="#e05440"/>
<rect x="956" y="208" width="1" height="23" fill="#707070"/>
<rect x="955" y="210" width="3" height="15" fill="#1f5a32"/>
<rect x="956" y="211" width="1" height="13" fill="#74b48c"/>
<rect x="960" y="202" width="1" height="29" fill="#707070"/>
<rect x="959" y="203" width="3" height="21" fill="#1f5a32"/>
<rect x="960" y="204" width="1" height="19" fill="#74b48c"/>
<rect x="964" y="200" width="1" height="9" fill="#707070"/>
<rect x="963" y="203" width="3" height="5" fill="#5c1009"/>
<rect x="964" y="204" width="1" height="3" fill="#e05440"/>
<rect x="969" y="211" width="1" height="12" fill="#707070"/>
<rect x="968" y="215" width="3" height="8" fill="#5c1009"/>
<rect x="969" y="216" width="1" height="6" fill="#e05440"/>
<rect x="973" y="195" width="1" height="20" fill="#707070"/>
<rect x="972" y="200" width="3" height="15" fill="#1f5a32"/>
<rect x="973" y="201" width="1" height="13" fill="#74b48c"/>
<rect x="978" y="197" width="1" height="7" fill="#707070"/>
<rect x="977" y="198" width="3" height="3" fill="#1f5a32"/>
<rect x="978" y="199" width="1" height="1" fill="#74b48c"/>
<rect x="982" y="184" width="1" height="22" fill="#707070"/>
<rect x="981" y="194" width="3" height="9" fill="#5c1009"/>
<rect x="982" y="195" width="1" height="7" fill="#e05440"/>
<rect x="986" y="193" width="1" height="10" fill="#707070"/>
<rect x="985" y="194" width="3" height="9" fill="#1f5a32"/>
<rect x="986" y="195" width="1" height="7" fill="#74b48c"/>
<rect x="991" y="182" width="1" height="16" fill="#707070"/>
<rect x="990" y="185" width="3" height="11" fill="#5c1009"/>
<rect x="991" y="186" width="1" height="9" fill="#e05440"/>
<rect x="995" y="194" width="1" height="24" fill="#707070"/>
<rect x="994" y="195" width="3" height="23" fill="#5c1009"/>
<rect x="995" y="196" width="1" height="21" fill="#e05440"/>
<rect x="999" y="209" width="1" height="24" fill="#707070"/>
<rect x="998" y="215" width="3" height="12" fill="#5c1009"/>
<rect x="999" y="216" width="1" height="10" fill="#e05440"/>
<rect x="1004" y="219" width="1" height="9" fill="#707070"/>
<rect x="1003" y="221" width="3" height="5" fill="#1f5a32"/>
<rect x="1004" y="222" width="1" height="3" fill="#74b48c"/>
<rect x="1008" y="219" width="1" height="38" fill="#707070"/>
<rect x="1007" y="221" width="3" height="28" fill="#5c1009"/>
<rect x="1008" y="222" width="1" height="26" fill="#e05440"/>
<rect x="1013" y="248" width="1" height="12" fill="#707070"/>
<rect x="1012" y="248" width="3" height="6" fill="#5c1009"/>
<rect x="1013" y="249" width="1" height="4" fill="#e05440"/>
<rect x="1017" y="254" width="1" height="28" fill="#707070"/>
<rect x="1016" y="254" width="3" height="7" fill="#1f5a32"/>
<rect x="1017" y="255" width="1" height="5" fill="#74b48c"/>
<rect x="1021" y="251" width="1" height="8" fill="#707070"/>
<rect x="1020" y="255" width="3" height="2" fill="#5c1009"/>
<rect x="1026" y="236" width="1" height="12" fill="#707070"/>
<rect x="1025" y="239" width="3" height="2" fill="#1f5a32"/>
<rect x="1030" y="234" width="1" height="7" fill="#707070"/>
<rect x="1029" y="236" width="3" height="4" fill="#1f5a32"/>
<rect x="1030" y="237" width="1" height="2" fill="#74b48c"/>
<rect x="1035" y="228" width="1" height="17" fill="#707070"/>
<rect x="1034" y="229" width="3" height="7" fill="#1f5a32"/>
<rect x="1035" y="230" width="1" height="5" fill="#74b48c"/>
<rect x="1039" y="228" width="1" height="6" fill="#707070"/>
<rect x="1038" y="229" width="3" height="1" fill="#1f5a32"/>
<rect x="1042" y="232" width="3" height="19" fill="#5c1009"/>
<rect x="1043" y="233" width="1" height="17" fill="#e05440"/>
<rect x="1048" y="249" width="1" height="10" fill="#707070"/>
<rect x="1047" y="250" width="3" height="9" fill="#5c1009"/>
<rect x="1048" y="251" width="1" height="7" fill="#e05440"/>
<rect x="1052" y="251" width="1" height="17" fill="#707070"/>
<rect x="1051" y="252" width="3" height="5" fill="#1f5a32"/>
<rect x="1052" y="253" width="1" height="3" fill="#74b48c"/>
<rect x="1056" y="251" width="1" height="5" fill="#707070"/>
<rect x="1055" y="252" width="3" height="1" fill="#5c1009"/>
<rect x="1061" y="258" width="1" height="21" fill="#707070"/>
<rect x="1060" y="260" width="3" height="19" fill="#5c1009"/>
<rect x="1061" y="261" width="1" height="17" fill="#e05440"/>
<rect x="1065" y="271" width="1" height="11" fill="#707070"/>
<rect x="1064" y="275" width="3" height="4" fill="#1f5a32"/>
<rect x="1065" y="276" width="1" height="2" fill="#74b48c"/>
<rect x="1070" y="279" width="1" height="13" fill="#707070"/>
<rect x="1069" y="285" width="3" height="5" fill="#5c1009"/>
<rect x="1070" y="286" width="1" height="3" fill="#e05440"/>
<rect x="1074" y="275" width="1" height="16" fill="#707070"/>
<rect x="1073" y="279" width="3" height="11" fill="#1f5a32"/>
<rect x="1074" y="280" width="1" height="9" fill="#74b48c"/>
<rect x="1078" y="273" width="1" height="20" fill="#707070"/>
<rect x="1077" y="281" width="3" height="8" fill="#5c1009"/>
<rect x="1078" y="282" width="1" height="6" fill="#e05440"/>
<rect x="1083" y="270" width="1" height="20" fill="#707070"/>
<rect x="1082" y="271" width="3" height="18" fill="#1f5a32"/>
<rect x="1083" y="272" width="1" height="16" fill="#74b48c"/>
<rect x="1087" y="262" width="1" height="30" fill="#707070"/>
<rect x="1086" y="262" width="3" height="25" fill="#5c1009"/>
<rect x="1087" y="263" width="1" height="23" fill="#e05440"/>
<rect x="1091" y="286" width="3" height="9" fill="#5c1009"/>
<rect x="1092" y="287" width="1" height="7" fill="#e05440"/>
<rect x="1096" y="278" width="1" height="23" fill="#707070"/>
<rect x="1095" y="284" width="3" height="16" fill="#1f5a32"/>
<rect x="1096" y="285" width="1" height="14" fill="#74b48c"/>
<rect x="1100" y="281" width="1" height="11" fill="#707070"/>
<rect x="1099" y="284" width="3" height="8" fill="#5c1009"/>
<rect x="1100" y="285" width="1" height="6" fill="#e05440"/>
<rect x="1105" y="296" width="1" height="11" fill="#707070"/>
<rect x="1104" y="301" width="3" height="5" fill="#5c1009"/>
<rect x="1105" y="302" width="1" height="3" fill="#e05440"/>
<rect x="1109" y="303" width="1" height="3" fill="#707070"/>
<rect x="1108" y="305" width="3" height="1" fill="#5c1009"/>
<rect x="1113" y="295" width="1" height="17" fill="#707070"/>
<rect x="1112" y="296" width="3" height="3" fill="#1f5a32"/>
<rect x="1113" y="297" width="1" height="1" fill="#74b48c"/>
<rect x="1117" y="288" width="3" height="9" fill="#1f5a32"/>
<rect x="1118" y="289" width="1" height="7" fill="#74b48c"/>
<rect x="1122" y="253" width="1" height="26" fill="#707070"/>
<rect x="1121" y="262" width="3" height="14" fill="#1f5a32"/>
<rect x="1122" y="263" width="1" height="12" fill="#74b48c"/>
<rect x="1127" y="255" width="1" height="10" fill="#707070"/>
<rect x="1126" y="256" width="3" height="7" fill="#1f5a32"/>
<rect x="1127" y="257" width="1" height="5" fill="#74b48c"/>
<rect x="1131" y="228" width="1" height="33" fill="#707070"/>
<rect x="1130" y="229" width="3" height="29" fill="#1f5a32"/>
<rect x="1131" y="230" width="1" height="27" fill="#74b48c"/>
<rect x="1135" y="227" width="1" height="6" fill="#707070"/>
<rect x="1134" y="229" width="3" height="1" fill="#1f5a32"/>
<rect x="1140" y="207" width="1" height="21" fill="#707070"/>
<rect x="1139" y="209" width="3" height="18" fill="#1f5a32"/>
<rect x="1140" y="210" width="1" height="16" fill="#74b48c"/>
<rect x="1144" y="208" width="1" height="12" fill="#707070"/>
<rect x="1143" y="209" width="3" height="9" fill="#5c1009"/>
<rect x="1144" y="210" width="1" height="7" fill="#e05440"/>
<rect x="1149" y="206" width="1" height="18" fill="#707070"/>
<rect x="1148" y="210" width="3" height="9" fill="#5c1009"/>
<rect x="1149" y="211" width="1" height="7" fill="#e05440"/>
<rect x="1153" y="215" width="1" height="6" fill="#707070"/>
<rect x="1152" y="218" width="3" height="3" fill="#5c1009"/>
<rect x="1153" y="219" width="1" height="1" fill="#e05440"/>
</g>
<path d="M0 220.5H1499" stroke="#e0483a" stroke-width="1" stroke-dasharray="1 2" shape-rendering="crispEdges" fill="none"/>
<polyline points="0.0,644.8 4.4,642.0 8.8,641.0 13.2,612.7 17.5,610.1 21.9,593.3 26.3,605.2 30.7,614.1 35.1,616.9 39.5,609.9 43.8,606.7 48.2,620.3 52.6,618.8 57.0,616.5 61.4,623.1 65.8,626.9 70.2,626.3 74.5,622.7 78.9,627.8 83.3,658.4 87.7,656.1 92.1,673.1 96.5,673.1 100.9,666.9 105.2,660.8 109.6,658.6 114.0,655.8 118.4,629.7 122.8,624.6 127.2,639.2 131.5,648.2 135.9,656.5 140.3,665.6 144.7,673.5 149.1,667.5 153.5,671.2 157.9,675.0 162.2,682.5 166.6,668.4 171.0,663.7 175.4,650.5 179.8,658.6 184.2,657.3 188.6,664.1 192.9,665.6 197.3,670.7 201.7,672.7 206.1,641.4 210.5,652.7 214.9,681.6 219.2,664.6 223.6,663.3 228.0,661.8 232.4,635.4 236.8,634.4 241.2,624.4 245.6,629.7 249.9,612.7 254.3,619.3 258.7,623.1 263.1,621.2 267.5,618.4 271.9,622.5 276.3,619.7 280.6,620.3 285.0,638.2 289.4,641.4 293.8,626.9 298.2,629.3 302.6,630.5 306.9,634.4 311.3,637.8 315.7,638.4 320.1,629.3 324.5,623.5 328.9,628.8 333.3,632.5 337.6,677.8 342.0,671.2 346.4,694.8 350.8,682.5 355.2,660.5 359.6,660.5 364.0,668.8 368.3,672.7 372.7,668.4 377.1,666.1 381.5,639.5 385.9,643.9 390.3,644.4 394.6,642.0 399.0,639.5 403.4,640.7 407.8,646.7 412.2,652.4 416.6,641.4 421.0,641.4 425.3,631.2 429.7,624.1 434.1,619.5 438.5,621.0 442.9,621.8 447.3,624.1 451.7,622.5 456.0,629.3 460.4,635.4 464.8,629.3 469.2,611.4 473.6,610.8 478.0,614.1 482.3,611.4 486.7,609.0 491.1,613.7 495.5,618.8 499.9,650.1 504.3,660.3 508.7,642.4 513.0,644.4 517.4,640.7 521.8,634.1 526.2,628.2 530.6,634.1 535.0,628.8 539.4,629.2 543.7,625.2 548.1,671.2 552.5,671.6 556.9,659.0 561.3,658.0 565.7,646.7 570.0,642.5 574.4,639.5 578.8,638.8 583.2,624.3 587.6,616.2 592.0,602.9 596.4,606.7 600.7,625.6 605.1,629.4 609.5,636.0 613.9,627.8 618.3,626.2 622.7,639.7 627.1,645.8 631.4,639.7 635.8,633.5 640.2,633.5 644.6,641.2 649.0,636.9 653.4,637.3 657.7,634.1 662.1,627.8 666.5,620.9 670.9,638.4 675.3,637.3 679.7,628.4 684.1,629.0 688.4,609.2 692.8,617.7 697.2,614.3 701.6,612.4 706.0,606.2 710.4,607.1 714.8,595.0 719.1,588.4 723.5,576.5 727.9,578.4 732.3,577.1 736.7,597.3 741.1,598.4 745.4,596.9 749.8,584.5 754.2,583.1 758.6,579.4 763.0,577.5 767.4,561.4 771.8,558.6 776.1,573.3 780.5,571.8 784.9,568.6 789.3,576.0 793.7,570.5 798.1,570.1 802.5,567.1 806.8,565.6 811.2,560.5 815.6,558.2 820.0,589.0 824.4,587.8 828.8,586.9 833.1,582.2 837.5,578.6 841.9,582.2 846.3,586.9 850.7,589.0 855.1,610.5 859.5,627.5 863.8,674.3 868.2,679.9 872.6,668.8 877.0,663.3 881.4,665.2 885.8,664.8 890.2,676.9 894.5,673.5 898.9,686.3 903.3,675.9 907.7,662.9 912.1,660.3 916.5,649.9 920.8,648.2 925.2,650.5 929.6,645.2 934.0,639.2 938.4,631.6 942.8,619.0 947.2,631.6 951.5,660.3 955.9,652.4 960.3,646.7 964.7,649.9 969.1,660.8 973.5,645.9 977.9,644.8 982.2,648.2 986.6,642.4 991.0,643.3 995.4,661.8 999.8,667.8 1004.2,664.4 1008.5,681.6 1012.9,684.4 1017.3,685.4 1021.7,686.3 1026.1,669.9 1030.5,666.9 1034.9,660.8 1039.2,660.5 1043.6,676.9 1048.0,682.9 1052.4,675.9 1056.8,676.5 1061.2,693.5 1065.6,691.0 1069.9,698.4 1074.3,687.6 1078.7,693.3 1083.1,675.6 1087.5,685.2 1091.9,689.3 1096.2,679.3 1100.6,684.8 1105.0,692.4 1109.4,692.5 1113.8,682.0 1118.2,673.1 1122.6,651.4 1126.9,646.7 1131.3,630.3 1135.7,629.7 1140.1,619.0 1144.5,626.9 1148.9,627.8 1153.3,629.7" fill="none" stroke="#7e57c2" stroke-width="1.1" stroke-linejoin="round"/>
<path d="M207.0 532L215.5 526.4L224.0 532V543Q224.0 545 222.0 545H209.0Q207.0 545 207.0 543Z" fill="#fff" stroke="#089981" stroke-width="2" stroke-linejoin="round"/>
<text transform="translate(215.6,540) scale(0.8,1)" x="0" y="0" text-anchor="middle" font-family="Liberation Sans, sans-serif" font-size="12.4" fill="#089981" stroke="#089981" stroke-width="0.35">E</text>
<path d="M742.0 532L750.5 526.4L759.0 532V543Q759.0 545 757.0 545H744.0Q742.0 545 742.0 543Z" fill="#fff" stroke="#089981" stroke-width="2" stroke-linejoin="round"/>
<text transform="translate(750.6,540) scale(0.8,1)" x="0" y="0" text-anchor="middle" font-family="Liberation Sans, sans-serif" font-size="12.4" fill="#089981" stroke="#089981" stroke-width="0.35">E</text>
<g shape-rendering="crispEdges">
<rect x="0" y="549" width="1590" height="1" fill="#555555"/>
<rect x="0" y="718" width="1590" height="1" fill="#555555"/>
<rect x="1534" y="0" width="1" height="746" fill="#555555"/>
<rect x="0" y="746" width="1590" height="1" fill="#e0e3eb"/>
</g>
<circle cx="1563.5" cy="732.5" r="4.8" fill="none" stroke="#131722" stroke-width="1.2"/><line x1="1568.60" y1="732.50" x2="1571.10" y2="732.50" stroke="#131722" stroke-width="1.2"/><line x1="1567.11" y1="736.11" x2="1568.45" y2="737.45" stroke="#131722" stroke-width="1.2"/><line x1="1563.50" y1="737.60" x2="1563.50" y2="740.10" stroke="#131722" stroke-width="1.2"/><line x1="1559.89" y1="736.11" x2="1558.55" y2="737.45" stroke="#131722" stroke-width="1.2"/><line x1="1558.40" y1="732.50" x2="1555.90" y2="732.50" stroke="#131722" stroke-width="1.2"/><line x1="1559.89" y1="728.89" x2="1558.55" y2="727.55" stroke="#131722" stroke-width="1.2"/><line x1="1563.50" y1="727.40" x2="1563.50" y2="724.90" stroke="#131722" stroke-width="1.2"/><line x1="1567.11" y1="728.89" x2="1568.45" y2="727.55" stroke="#131722" stroke-width="1.2"/>
</svg>
<div class="pl" style="top:24.0px">1500.00</div>
<div class="pl" style="top:70.0px">1400.00</div>
<div class="pl" style="top:115.0px">1300.00</div>
<div class="pl" style="top:161.0px">1200.00</div>
<div class="pl" style="top:206.0px">1100.00</div>
<div class="pl" style="top:252.0px">1000.00</div>
<div class="pl" style="top:297.0px">900.00</div>
<div class="pl" style="top:343.0px">800.00</div>
<div class="pl" style="top:389.0px">700.00</div>
<div class="pl" style="top:434.0px">600.00</div>
<div class="pl" style="top:480.0px">500.00</div>
<div class="pl" style="top:525.0px">400.00</div>
<div class="pl" style="top:580.8px">80.00</div>
<div class="pl" style="top:626.9px">60.00</div>
<div class="pl" style="top:671.9px">40.00</div>
<div class="tl" style="left:61.1px;">Jul</div>
<div class="tl" style="left:162.1px;">19</div>
<div class="tl" style="left:250.1px;">Aug</div>
<div class="tl" style="left:337.1px;">16</div>
<div class="tl" style="left:438.1px;">Sep</div>
<div class="tl" style="left:517.1px;">15</div>
<div class="tl" style="left:622.1px;">Oct</div>
<div class="tl" style="left:723.1px;">18</div>
<div class="tl" style="left:811.1px;">Nov</div>
<div class="tl" style="left:899.1px;">15</div>
<div class="tl" style="left:986.1px;">Dec</div>
<div class="tl" style="left:1065.1px;">14</div>
<div class="tl" style="left:1179.1px;font-weight:bold;">2022</div>
<div class="tl" style="left:1258.1px;">14</div>
<div class="tl" style="left:1355.1px;">Feb</div>
<div class="tl" style="left:1438.1px;">14</div>
<div class="tl" style="left:1521px;background:linear-gradient(90deg,#c4c4c4 0%,#8a8a8a 40%,#4c4c4c 85%);-webkit-background-clip:text;background-clip:text;color:transparent;">Mar</div>
<div class="tag" style="top:157px;width:54px;background:#f44336">1208.72</div>
<div class="tag" style="top:229px;width:54px;height:15px;line-height:13px;background:#4caf50">1075.39</div>
<div class="tag" style="top:196px;width:54px;height:17px;line-height:16px;background:#f44336">1113.14</div>
<div class="tag" style="top:212px;width:54px;background:#d75442">1088.19</div>
<div class="tag" style="top:275px;width:48px;background:#4caf50">948.55</div>
<div class="tag" style="top:298px;width:48px;background:#4caf50">899.47</div>
<div class="tag" style="top:212px;left:1499px;width:34px;background:#d75442;border-radius:2px 0 0 2px;box-shadow:1px 0 0 #fff;font-weight:normal;padding-left:4px;letter-spacing:-0.6px">TSLA</div>
</body></html>
